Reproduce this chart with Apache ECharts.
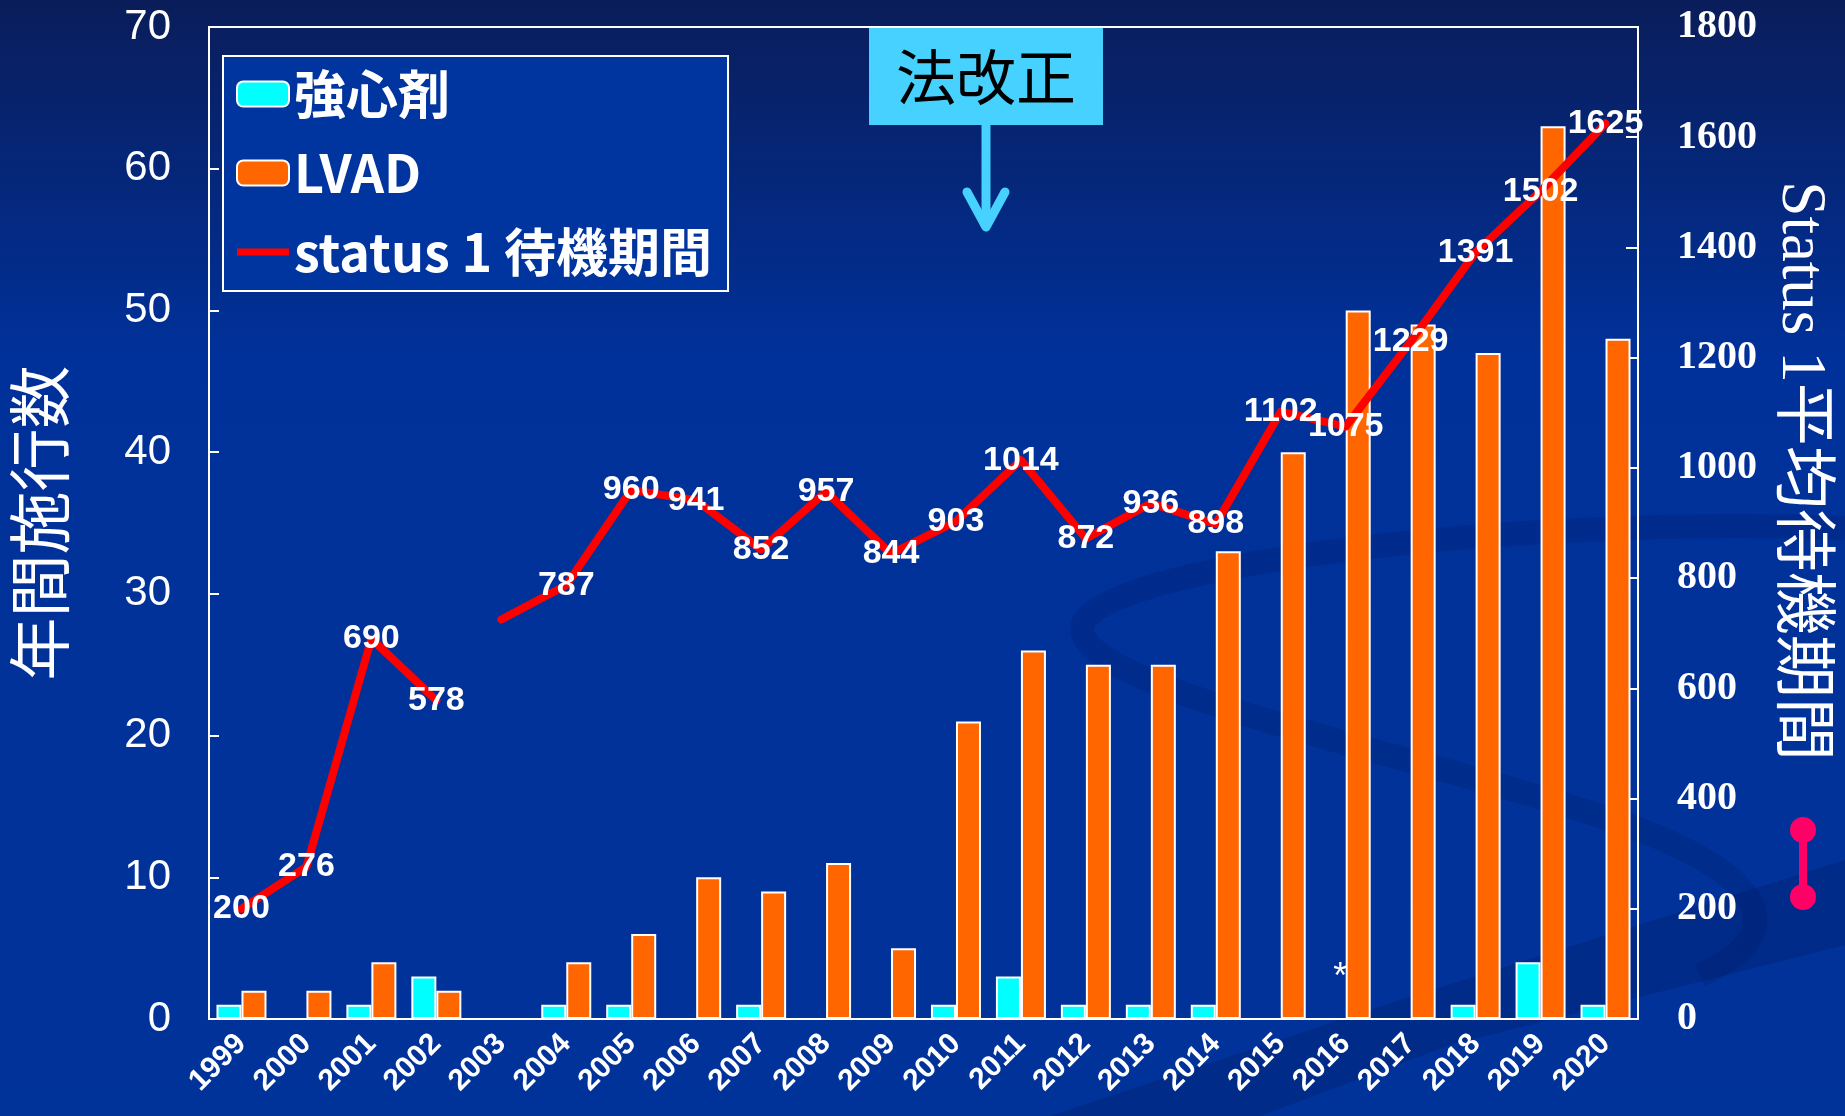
<!DOCTYPE html>
<html>
<head>
<meta charset="utf-8">
<title>強心剤・LVAD 年間施行数と status 1 待機期間</title>
<script src="https://cdn.jsdelivr.net/npm/echarts@6/dist/echarts.min.js"></script>
<style>
  html, body { margin: 0; padding: 0; }
  #chart { width: 1845px; height: 1116px; }
</style>
</head>
<body>
<div id="chart"></div>
<script>
// 年ごとのデータ
const years = ['1999', '2000', '2001', '2002', '2003', '2004', '2005', '2006', '2007', '2008', '2009',
  '2010', '2011', '2012', '2013', '2014', '2015', '2016', '2017', '2018', '2019', '2020'];
const inotropeCounts = [1, 0, 1, 3, 0, 1, 1, 0, 1, 0, 0, 1, 3, 1, 1, 1, 0, 0, 0, 1, 4, 1];
const lvadCounts = [2, 2, 4, 2, 0, 4, 6, 10, 9, 11, 5, 21, 26, 25, 25, 33, 40, 50, 49, 47, 63, 48];
// status 1 平均待機期間（日）: 2002 と 2003 の間で線が途切れている
const waitDaysEarly = [200, 276, 690, 578];                  // 1999-2002
const waitDaysLater = [725, 787, 960, 941, 852, 957, 844, 903, 1014, 872,
  936, 898, 1102, 1075, 1229, 1391, 1502, 1625];              // 2003-2020
const unlabeledYears = ['2003'];
const noteYear = '2016';
const leftTicks = { min: 0, max: 70, interval: 10 };
const rightTicks = { min: 0, max: 1800, interval: 200 };

const chart = echarts.init(document.getElementById('chart'));

const lineName = 'status 1 待機期間';
const earlyData = years.map((y, i) => (i < waitDaysEarly.length ? waitDaysEarly[i] : null));
const laterData = years.map((y, i) => {
  if (i < waitDaysEarly.length) return null;
  const v = waitDaysLater[i - waitDaysEarly.length];
  return unlabeledYears.includes(y) ? { value: v, label: { show: false } } : v;
});
const inotropeData = years.map((y, i) => (y === noteYear
  ? { value: inotropeCounts[i], label: { show: true, formatter: '*', position: 'top', distance: 22, offset: [7, 0] } }
  : inotropeCounts[i]));

const white = '#ffffff';
const sansFont = 'Liberation Sans, Arial, sans-serif';
const lineLabel = {
  show: true,
  position: 'inside',
  color: white,
  fontSize: 34,
  fontWeight: 'bold',
  fontFamily: sansFont,
};
const lineSeries = (data) => ({
  name: lineName,
  type: 'line',
  yAxisIndex: 1,
  data: data,
  symbol: 'circle',
  symbolSize: 1,
  showSymbol: true,
  connectNulls: false,
  lineStyle: { color: '#ff0000', width: 8, cap: 'round', join: 'round' },
  itemStyle: { color: '#ff0000' },
  label: lineLabel,
  z: 5,
});

const swirl = 'rgba(0, 22, 95, 0.22)';

const option = {
  backgroundColor: new echarts.graphic.LinearGradient(0, 0, 0, 1, [
    { offset: 0, color: '#0a1d5a' },
    { offset: 0.32, color: '#00319a' },
    { offset: 1, color: '#003399' },
  ]),
  animation: false,
  grid: {
    left: 200,
    right: 207,
    top: 27,
    bottom: 97,
    show: true,
    borderColor: white,
    borderWidth: 2,
    backgroundColor: 'transparent',
  },
  legend: {
    orient: 'vertical',
    left: 223,
    top: 56,
    padding: [12, 16, 13, 13],
    itemGap: 27,
    itemWidth: 52,
    itemHeight: 25,
    backgroundColor: '#0035a0',
    borderColor: white,
    borderWidth: 2,
    borderRadius: 0,
    textStyle: {
      color: white,
      fontSize: 52,
      fontWeight: 'bold',
      fontFamily: 'Noto Sans CJK JP',
    },
    data: [
      { name: '強心剤' },
      { name: 'LVAD' },
      { name: lineName, icon: 'path://M0,0 L120,0 L120,16 L0,16 Z' },
    ],
  },
  xAxis: {
    type: 'category',
    data: years,
    axisLine: { lineStyle: { color: white, width: 2 } },
    axisTick: { inside: true, length: 9, lineStyle: { color: white, width: 2 } },
    axisLabel: {
      rotate: 45,
      margin: 20,
      color: white,
      fontSize: 30,
      fontWeight: 'bold',
      fontFamily: sansFont,
    },
  },
  yAxis: [
    {
      type: 'value',
      min: leftTicks.min,
      max: leftTicks.max,
      interval: leftTicks.interval,
      name: '年間施行数',
      nameLocation: 'middle',
      nameRotate: 90,
      nameGap: 138,
      nameTextStyle: { color: white, fontSize: 63, fontFamily: 'Noto Sans CJK JP' },
      axisLine: { show: true, lineStyle: { color: white, width: 2 } },
      axisTick: { show: true, inside: true, length: 10, lineStyle: { color: white, width: 2 } },
      axisLabel: { color: white, fontSize: 42, margin: 38, fontFamily: sansFont },
      splitLine: { show: false },
    },
    {
      type: 'value',
      position: 'right',
      min: rightTicks.min,
      max: rightTicks.max,
      interval: rightTicks.interval,
      name: 'Status 1平均待機期間',
      nameLocation: 'middle',
      nameRotate: -90,
      nameGap: 130,
      nameTextStyle: {
        color: white,
        fontSize: 63,
        fontFamily: 'Liberation Serif, Noto Sans CJK JP, serif',
        padding: [0, 104, 0, 0],
      },
      axisLine: { show: true, lineStyle: { color: white, width: 2 } },
      axisTick: { show: true, inside: true, length: 12, lineStyle: { color: white, width: 2 } },
      axisLabel: {
        color: white,
        fontSize: 40,
        fontWeight: 'bold',
        margin: 39,
        fontFamily: 'Liberation Serif, Times New Roman, serif',
        formatter: (v) => String(v),
      },
      splitLine: { show: false },
    },
  ],
  series: [
    {
      name: '強心剤',
      type: 'bar',
      yAxisIndex: 0,
      data: inotropeData,
      barWidth: 25,
      barGap: '0%',
      itemStyle: { color: '#00ffff', borderColor: white, borderWidth: 2 },
      label: { show: false, color: white, fontSize: 36, fontFamily: sansFont },
      z: 3,
    },
    {
      name: 'LVAD',
      type: 'bar',
      yAxisIndex: 0,
      data: lvadCounts,
      barWidth: 25,
      barGap: '0%',
      itemStyle: { color: '#ff6600', borderColor: white, borderWidth: 2 },
      z: 3,
    },
    lineSeries(earlyData),
    lineSeries(laterData),
  ],
  graphic: [
    // 背景の渦模様
    {
      type: 'polygon',
      z: 0,
      silent: true,
      shape: { points: [[1050, 1116], [1400, 1000], [1845, 860], [1845, 945], [1450, 1045], [1260, 1116]] },
      style: { fill: 'rgba(0, 25, 100, 0.3)' },
    },
    {
      type: 'bezierCurve',
      z: 0,
      silent: true,
      shape: { x1: 1845, y1: 528, cpx1: 1500, cpy1: 515, cpx2: 1075, cpy2: 570, x2: 1082, y2: 630 },
      style: { fill: null, stroke: swirl, lineWidth: 24 },
    },
    {
      type: 'bezierCurve',
      z: 0,
      silent: true,
      shape: { x1: 1082, y1: 630, cpx1: 1090, cpy1: 695, cpx2: 1450, cpy2: 760, x2: 1640, y2: 830 },
      style: { fill: null, stroke: swirl, lineWidth: 24 },
    },
    {
      type: 'bezierCurve',
      z: 0,
      silent: true,
      shape: { x1: 1640, y1: 830, cpx1: 1770, cpy1: 880, cpx2: 1790, cpy2: 935, x2: 1700, y2: 975 },
      style: { fill: null, stroke: swirl, lineWidth: 24 },
    },
    // 法改正
    {
      type: 'rect',
      z: 10,
      shape: { x: 869, y: 28, width: 234, height: 97 },
      style: { fill: '#47d1ff' },
    },
    {
      type: 'text',
      z: 11,
      x: 986,
      y: 77,
      style: {
        text: '法改正',
        fill: '#000000',
        fontSize: 60,
        fontFamily: 'Noto Sans CJK JP',
        align: 'center',
        verticalAlign: 'middle',
      },
    },
    {
      type: 'line',
      z: 10,
      shape: { x1: 986, y1: 125, x2: 986, y2: 222 },
      style: { stroke: '#47d1ff', lineWidth: 9 },
    },
    {
      type: 'polyline',
      z: 10,
      shape: { points: [[967, 192], [986, 227], [1005, 192]] },
      style: { stroke: '#47d1ff', lineWidth: 9, lineCap: 'round', lineJoin: 'round', fill: null },
    },
    // 右下の目印
    {
      type: 'line',
      z: 10,
      shape: { x1: 1803, y1: 830, x2: 1803, y2: 897 },
      style: { stroke: '#ff0066', lineWidth: 8 },
    },
    { type: 'circle', z: 10, shape: { cx: 1803, cy: 830, r: 13 }, style: { fill: '#ff0066' } },
    { type: 'circle', z: 10, shape: { cx: 1803, cy: 897, r: 13 }, style: { fill: '#ff0066' } },
  ],
};

chart.setOption(option);
</script>
</body>
</html>
